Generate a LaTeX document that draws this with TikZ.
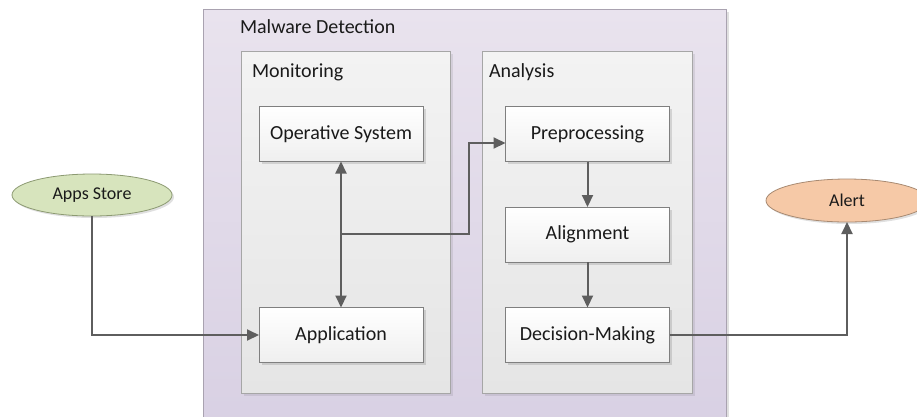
\documentclass[tikz,border=0pt]{standalone}
\usepackage{fontspec}
\setmainfont{Carlito}
\usetikzlibrary{arrows.meta,shadows,shapes.geometric}
\definecolor{txt}{HTML}{1A1A1A}
\definecolor{lnc}{HTML}{5E5E5E}
\definecolor{purT}{HTML}{E9E3EE}
\definecolor{purB}{HTML}{D8D0E3}
\definecolor{purD}{HTML}{A9A2B0}
\definecolor{grT}{HTML}{F3F3F3}
\definecolor{grB}{HTML}{E5E5E5}
\definecolor{grD}{HTML}{A6A6A6}
\definecolor{bxD}{HTML}{7F7F7F}
\definecolor{bxB}{HTML}{EFEFEF}
\definecolor{grn}{HTML}{D7E4BD}
\definecolor{grnD}{HTML}{8C9A72}
\definecolor{org}{HTML}{F6C9A7}
\definecolor{orgD}{HTML}{A88A72}
\tikzset{
  every node/.style={text=txt, inner sep=0pt, outer sep=0pt},
  bigfont/.style={font=\fontsize{20}{24}\selectfont},
  outerbox/.style={draw=purD, line width=0.8pt, top color=purT, bottom color=purB,
    anchor=north west, drop shadow={shadow xshift=2.5pt, shadow yshift=-2.5pt, fill=black, opacity=0.12}},
  groupbox/.style={draw=grD, line width=0.8pt, top color=grT, bottom color=grB,
    anchor=north west, drop shadow={shadow xshift=2.5pt, shadow yshift=-2.5pt, fill=black, opacity=0.08}},
  stepbox/.style={bigfont, draw=bxD, line width=0.8pt, top color=white, bottom color=bxB,
    minimum width=164pt, minimum height=55pt,
    drop shadow={shadow xshift=2.5pt, shadow yshift=-2.5pt, fill=black, opacity=0.12}},
  extnode/.style={ellipse, font=\fontsize{18}{22}\selectfont, line width=0.8pt,
    drop shadow={shadow xshift=2pt, shadow yshift=-2pt, fill=black, opacity=0.12}},
  grouplabel/.style={bigfont, anchor=base west},
  conn/.style={draw=lnc, line width=2pt, -{Triangle[length=12pt,width=11pt]}},
  conn2/.style={draw=lnc, line width=2pt, {Triangle[length=12pt,width=11pt]}-{Triangle[length=12pt,width=11pt]}}
}
\begin{document}
\begin{tikzpicture}[x=1pt,y=-1pt]
\useasboundingbox (0,0) rectangle (917,416);
\clip (0,0) rectangle (917,416);
\fill[white] (0,0) rectangle (917,416);

% containers
\node[outerbox, minimum width=523pt, minimum height=425pt] (md) at (203,9) {};
\node[grouplabel] (mdl) at (240,33) {Malware Detection};
\node[groupbox, minimum width=209pt, minimum height=342pt] (mon) at (241,51) {};
\node[grouplabel] (monl) at (252,77) {Monitoring};
\node[groupbox, minimum width=210pt, minimum height=342pt] (ana) at (482,51) {};
\node[grouplabel] (anal) at (489,77) {Analysis};

% steps
\node[stepbox] (os) at (341,134) {Operative System};
\node[stepbox] (app) at (341,335) {Application};
\node[stepbox] (pre) at (587.5,134) {Preprocessing};
\node[stepbox] (ali) at (587.5,234.5) {Alignment};
\node[stepbox] (dec) at (587.5,335) {Decision-Making};

% external
\node[extnode, draw=grnD, fill=grn, minimum width=160pt, minimum height=42pt] (store) at (92,195) {Apps Store};
\node[extnode, draw=orgD, fill=org, minimum width=162pt, minimum height=43pt] (alert) at (847,200.5) {Alert};

% connectors
\coordinate (j) at (341,234);
\coordinate (k) at (469,143);
\draw[conn] (store.south) |- (app.west);
\draw[conn2] (os.south) -- (app.north);
\draw[conn] (j) -| (k) -- (k -| pre.west);
\draw[conn] (pre.south) -- (ali.north);
\draw[conn] (ali.south) -- (dec.north);
\draw[conn] (dec.east) -| (alert.south);
\end{tikzpicture}
\end{document}
